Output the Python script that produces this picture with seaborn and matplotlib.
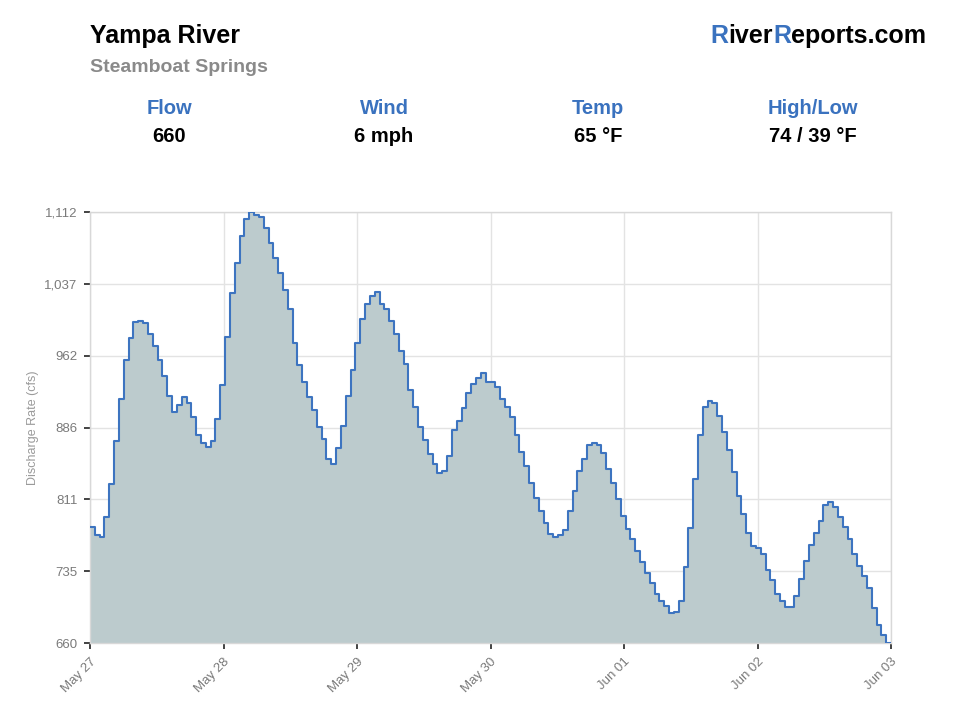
import numpy as np
import pandas as pd
import matplotlib
matplotlib.use("Agg")
import matplotlib.pyplot as plt
import seaborn as sns

# hourly discharge readings (cfs)
flow = [
    782, 773, 771, 792, 827, 872, 916, 957, 980, 997, 998, 996,
    984, 971, 957, 940, 919, 902, 910, 918, 912, 897, 878, 870,
    866, 872, 895, 931, 981, 1027, 1059, 1087, 1105, 1112, 1109, 1107,
    1095, 1079, 1064, 1048, 1030, 1010, 975, 952, 934, 918, 904, 887,
    874, 853, 848, 864, 888, 919, 946, 975, 1000, 1015, 1024, 1028,
    1015, 1010, 998, 984, 966, 953, 925, 907, 887, 873, 858, 848,
    838, 840, 856, 883, 893, 906, 922, 932, 938, 943, 934, 934,
    928, 916, 908, 897, 878, 860, 846, 828, 812, 798, 786, 774,
    771, 773, 779, 798, 819, 840, 853, 868, 870, 868, 859, 843,
    828, 811, 793, 780, 769, 757, 745, 733, 723, 711, 704, 699,
    691, 692, 704, 740, 781, 832, 878, 907, 914, 912, 898, 881,
    862, 839, 814, 795, 775, 762, 760, 753, 737, 726, 711, 704,
    698, 698, 709, 727, 746, 763, 775, 788, 805, 808, 803, 792,
    782, 769, 753, 741, 730, 718, 697, 679, 668, 660,
]
date_labels = ['May 27', 'May 28', 'May 29', 'May 30', 'Jun 01', 'Jun 02', 'Jun 03']
y_tick_labels = ['660', '735', '811', '886', '962', '1,037', '1,112']

stat_names = ['Flow', 'Wind', 'Temp', 'High/Low']
stat_values = ['660', '6 mph', '65 °F', '74 / 39 °F']

BLUE = '#3a72bf'
LINE = '#3d74c0'
FILL = '#bccbcd'
GRAY = '#7a7a7a'
GRID = '#e3e3e3'


def main():
    sns.set_style('white')
    plt.rcParams['font.family'] = ['Liberation Sans', 'DejaVu Sans']

    # repeat last value so the final step reaches the right edge
    df = pd.DataFrame({'hour': np.arange(len(flow) + 1),
                       'cfs': flow + [flow[-1]]})

    fig = plt.figure(figsize=(9.6, 7.2), dpi=100)
    ax = fig.add_axes([90 / 960, 1 - 643 / 720, 801 / 960, 431 / 720])

    ax.fill_between(df['hour'], df['cfs'], 0, step='post', color=FILL, lw=0, zorder=2)
    sns.lineplot(data=df, x='hour', y='cfs', drawstyle='steps-post',
                 color=LINE, lw=1.5, ax=ax, zorder=3)

    n = len(flow)
    ymin, ymax = 660, 1112
    ax.set_xlim(0, n)
    ax.set_ylim(ymin, ymax)
    ax.set_xticks(np.linspace(0, n, len(date_labels)))
    ax.set_xticklabels(date_labels, rotation=45, ha='right',
                       rotation_mode='anchor', color=GRAY, fontsize=9.5)
    ax.set_yticks(np.linspace(ymin, ymax, len(y_tick_labels)))
    ax.set_yticklabels(y_tick_labels, color=GRAY, fontsize=9.5)
    ax.tick_params(axis='both', length=4, width=1.2, color='#222222', pad=5,
                   left=True, bottom=True)

    ax.grid(True, color=GRID, lw=1, zorder=1)
    ax.set_axisbelow(True)
    for s in ax.spines.values():
        s.set_color('#d8d8d8')
        s.set_linewidth(1)

    ax.set_xlabel('')
    ax.set_ylabel('Discharge Rate (cfs)', color='#9a9a9a', fontsize=9, labelpad=4)

    # header
    fig.text(90 / 960, 1 - 36 / 720, 'Yampa River', fontsize=18, fontweight='bold',
             color='black', va='center', ha='left')
    fig.text(90 / 960, 1 - 67 / 720, 'Steamboat Springs', fontsize=14,
             fontweight='bold', color='#8a8a8a', va='center', ha='left')

    # logo text with blue R's, right aligned
    pieces = [('R', BLUE), ('iver', 'black'), ('R', BLUE), ('eports.com', 'black')]
    renderer = fig.canvas.get_renderer()
    texts = []
    for s, c in pieces:
        t = fig.text(0, 1 - 36 / 720, s, fontsize=18, fontweight='bold', color=c,
                     va='center', ha='left')
        texts.append(t)
    widths = [t.get_window_extent(renderer).width for t in texts]
    x = 926 - sum(widths)
    for t, w in zip(texts, widths):
        t.set_x(x / 960)
        x += w

    centers = [169, 384, 598, 813]
    for cx, name, val in zip(centers, stat_names, stat_values):
        fig.text(cx / 960, 1 - 109 / 720, name, fontsize=14.5, fontweight='bold',
                 color=BLUE, ha='center', va='center')
        fig.text(cx / 960, 1 - 137 / 720, val, fontsize=14.5, fontweight='bold',
                 color='black', ha='center', va='center')

    fig.savefig('out.png', dpi=100)


if __name__ == "__main__":
    main()
